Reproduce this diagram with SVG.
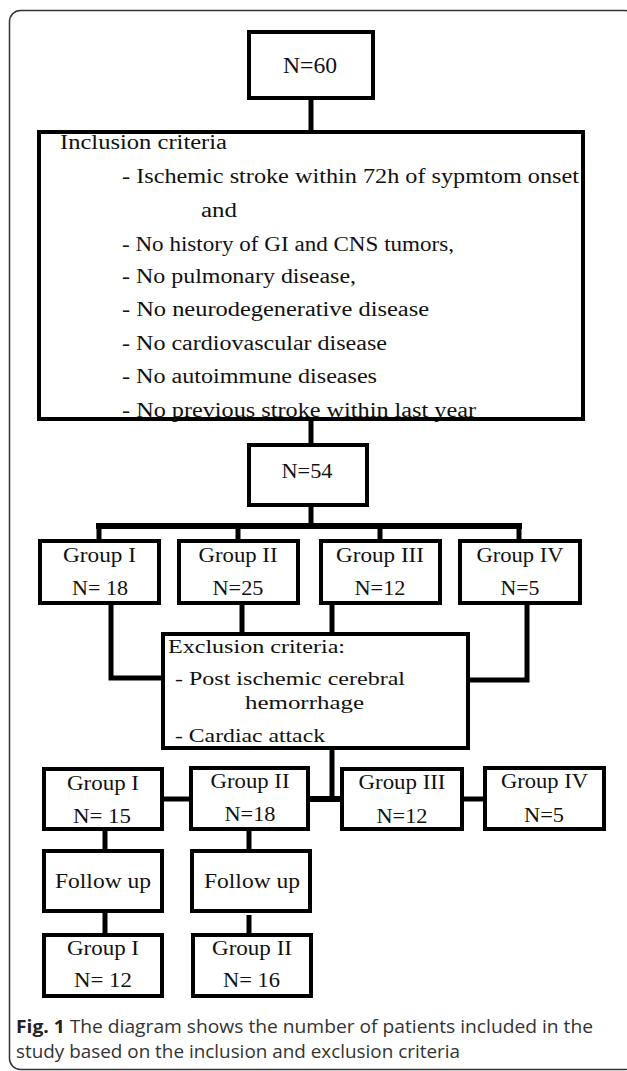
<svg xmlns="http://www.w3.org/2000/svg" width="627" height="1071" viewBox="0 0 627 1071">
<defs>
<style>
.box{fill:#fff;stroke:#000;stroke-width:4}
.con{stroke:#000;stroke-width:5;fill:none;stroke-linecap:butt}
.t{font-family:"Liberation Serif","Times New Roman",serif;font-size:20px;fill:#111}
.x{font-size:19px}
.c{font-family:"Open Sans","Noto Sans",sans-serif;font-size:18px;fill:#333}
</style>
</defs>
<rect x="0" y="0" width="627" height="1071" fill="#fff"/>
<rect id="frame" x="9.5" y="10.5" width="626" height="1059" rx="11" ry="11" fill="none" stroke="#333" stroke-width="1.5"/>

<g id="connectors">
<line class="con" x1="311" y1="100" x2="311" y2="131"/>
<line class="con" x1="311" y1="420" x2="311" y2="444"/>
<line class="con" x1="311" y1="506" x2="311" y2="526"/>
<line class="con" x1="96" y1="526" x2="522" y2="526" style="stroke-width:6"/>
<line class="con" x1="99" y1="526" x2="99" y2="540"/>
<line class="con" x1="238" y1="526" x2="238" y2="540"/>
<line class="con" x1="380" y1="526" x2="380" y2="540"/>
<line class="con" x1="519" y1="526" x2="519" y2="540"/>
<polyline class="con" points="111,604 111,678 162,678"/>
<line class="con" x1="242" y1="604" x2="242" y2="633"/>
<line class="con" x1="332" y1="604" x2="332" y2="633"/>
<polyline class="con" points="527,604 527,680 469,680"/>
<line class="con" x1="332" y1="749" x2="332" y2="801"/>
<line class="con" x1="163" y1="799" x2="190" y2="799"/>
<line class="con" x1="309" y1="799" x2="341" y2="799" style="stroke-width:6"/>
<line class="con" x1="463" y1="799" x2="484" y2="799"/>
<line class="con" x1="105" y1="830" x2="105" y2="851"/>
<line class="con" x1="249" y1="830" x2="249" y2="851"/>
<line class="con" x1="105" y1="912" x2="105" y2="934"/>
<line class="con" x1="249" y1="915" x2="249" y2="934"/>
</g>

<g id="n60">
<rect class="box" x="249" y="32" width="124" height="66"/>
<text class="t" x="310" y="73" text-anchor="middle" style="font-size:24px" textLength="54" lengthAdjust="spacingAndGlyphs">N=60</text>
</g>

<g id="inclusion">
<rect class="box" x="39" y="132" width="544" height="287"/>
<text class="t" x="60" y="149" textLength="167" lengthAdjust="spacingAndGlyphs">Inclusion criteria</text>
<text class="t" x="122" y="183" textLength="457" lengthAdjust="spacingAndGlyphs">- Ischemic stroke within 72h of sypmtom onset</text>
<text class="t" x="201" y="217" textLength="36" lengthAdjust="spacingAndGlyphs">and</text>
<text class="t" x="122" y="251" textLength="332" lengthAdjust="spacingAndGlyphs">- No history of GI and CNS tumors,</text>
<text class="t" x="122" y="283" textLength="234" lengthAdjust="spacingAndGlyphs">- No pulmonary disease,</text>
<text class="t" x="122" y="316" textLength="307" lengthAdjust="spacingAndGlyphs">- No neurodegenerative disease</text>
<text class="t" x="122" y="350" textLength="265" lengthAdjust="spacingAndGlyphs">- No cardiovascular disease</text>
<text class="t" x="122" y="383" textLength="255" lengthAdjust="spacingAndGlyphs">- No autoimmune diseases</text>
<text class="t" x="122" y="417" textLength="354" lengthAdjust="spacingAndGlyphs">- No previous stroke within last year</text>
</g>

<g id="n54">
<rect class="box" x="249" y="445" width="118" height="60"/>
<text class="t" x="307" y="478" text-anchor="middle" style="font-size:22px" textLength="51" lengthAdjust="spacingAndGlyphs">N=54</text>
</g>

<g id="g1a">
<rect class="box" x="40" y="541" width="119" height="62"/>
<text class="t" x="99.5" y="562" text-anchor="middle" textLength="73" lengthAdjust="spacingAndGlyphs">Group I</text>
<text class="t" x="100" y="595" text-anchor="middle" textLength="56" lengthAdjust="spacingAndGlyphs">N= 18</text>
</g>
<g id="g2a">
<rect class="box" x="179" y="541" width="119" height="62"/>
<text class="t" x="238" y="562" text-anchor="middle" textLength="79" lengthAdjust="spacingAndGlyphs">Group II</text>
<text class="t" x="238" y="595" text-anchor="middle" textLength="51" lengthAdjust="spacingAndGlyphs">N=25</text>
</g>
<g id="g3a">
<rect class="box" x="321" y="541" width="119" height="62"/>
<text class="t" x="380" y="562" text-anchor="middle" textLength="88" lengthAdjust="spacingAndGlyphs">Group III</text>
<text class="t" x="380" y="595" text-anchor="middle" textLength="51" lengthAdjust="spacingAndGlyphs">N=12</text>
</g>
<g id="g4a">
<rect class="box" x="460" y="541" width="120" height="62"/>
<text class="t" x="520" y="562" text-anchor="middle" textLength="87" lengthAdjust="spacingAndGlyphs">Group IV</text>
<text class="t" x="520" y="595" text-anchor="middle" textLength="39" lengthAdjust="spacingAndGlyphs">N=5</text>
</g>

<g id="exclusion">
<rect class="box" x="163" y="634" width="305" height="114"/>
<text class="t x" x="168" y="653" textLength="177" lengthAdjust="spacingAndGlyphs">Exclusion criteria:</text>
<text class="t x" x="175" y="685" textLength="230" lengthAdjust="spacingAndGlyphs">- Post ischemic cerebral</text>
<text class="t x" x="245" y="709" textLength="119" lengthAdjust="spacingAndGlyphs">hemorrhage</text>
<text class="t x" x="175" y="742" textLength="150" lengthAdjust="spacingAndGlyphs">- Cardiac attack</text>
</g>

<g id="g1b">
<rect class="box" x="44" y="769" width="118" height="60"/>
<text class="t" x="103" y="790" text-anchor="middle" textLength="72" lengthAdjust="spacingAndGlyphs">Group I</text>
<text class="t" x="102" y="823" text-anchor="middle" textLength="58" lengthAdjust="spacingAndGlyphs">N= 15</text>
</g>
<g id="g2b">
<rect class="box" x="191" y="768" width="117" height="61"/>
<text class="t" x="250" y="788" text-anchor="middle" textLength="79" lengthAdjust="spacingAndGlyphs">Group II</text>
<text class="t" x="250" y="821" text-anchor="middle" textLength="51" lengthAdjust="spacingAndGlyphs">N=18</text>
</g>
<g id="g3b">
<rect class="box" x="342" y="769" width="120" height="60"/>
<text class="t" x="402" y="789" text-anchor="middle" textLength="87" lengthAdjust="spacingAndGlyphs">Group III</text>
<text class="t" x="402" y="823" text-anchor="middle" textLength="51" lengthAdjust="spacingAndGlyphs">N=12</text>
</g>
<g id="g4b">
<rect class="box" x="485" y="768" width="119" height="61"/>
<text class="t" x="544.5" y="788" text-anchor="middle" textLength="87" lengthAdjust="spacingAndGlyphs">Group IV</text>
<text class="t" x="544" y="822" text-anchor="middle" textLength="40" lengthAdjust="spacingAndGlyphs">N=5</text>
</g>

<g id="fu1">
<rect class="box" x="44" y="851" width="118" height="60"/>
<text class="t" x="103" y="888" text-anchor="middle" textLength="96" lengthAdjust="spacingAndGlyphs">Follow up</text>
</g>
<g id="fu2">
<rect class="box" x="192" y="851" width="118" height="60"/>
<text class="t" x="252" y="888" text-anchor="middle" textLength="96" lengthAdjust="spacingAndGlyphs">Follow up</text>
</g>

<g id="g1c">
<rect class="box" x="44" y="935" width="118" height="61"/>
<text class="t" x="103" y="955" text-anchor="middle" textLength="72" lengthAdjust="spacingAndGlyphs">Group I</text>
<text class="t" x="103" y="987" text-anchor="middle" textLength="58" lengthAdjust="spacingAndGlyphs">N= 12</text>
</g>
<g id="g2c">
<rect class="box" x="193" y="935" width="118" height="61"/>
<text class="t" x="252" y="955" text-anchor="middle" textLength="80" lengthAdjust="spacingAndGlyphs">Group II</text>
<text class="t" x="251.5" y="987" text-anchor="middle" textLength="57" lengthAdjust="spacingAndGlyphs">N= 16</text>
</g>

<g id="caption">
<text class="c" x="16" y="1033" textLength="577" lengthAdjust="spacingAndGlyphs"><tspan font-weight="bold" fill="#222">Fig. 1</tspan> The diagram shows the number of patients included in the</text>
<text class="c" x="16" y="1058" textLength="444" lengthAdjust="spacingAndGlyphs">study based on the inclusion and exclusion criteria</text>
</g>
</svg>
